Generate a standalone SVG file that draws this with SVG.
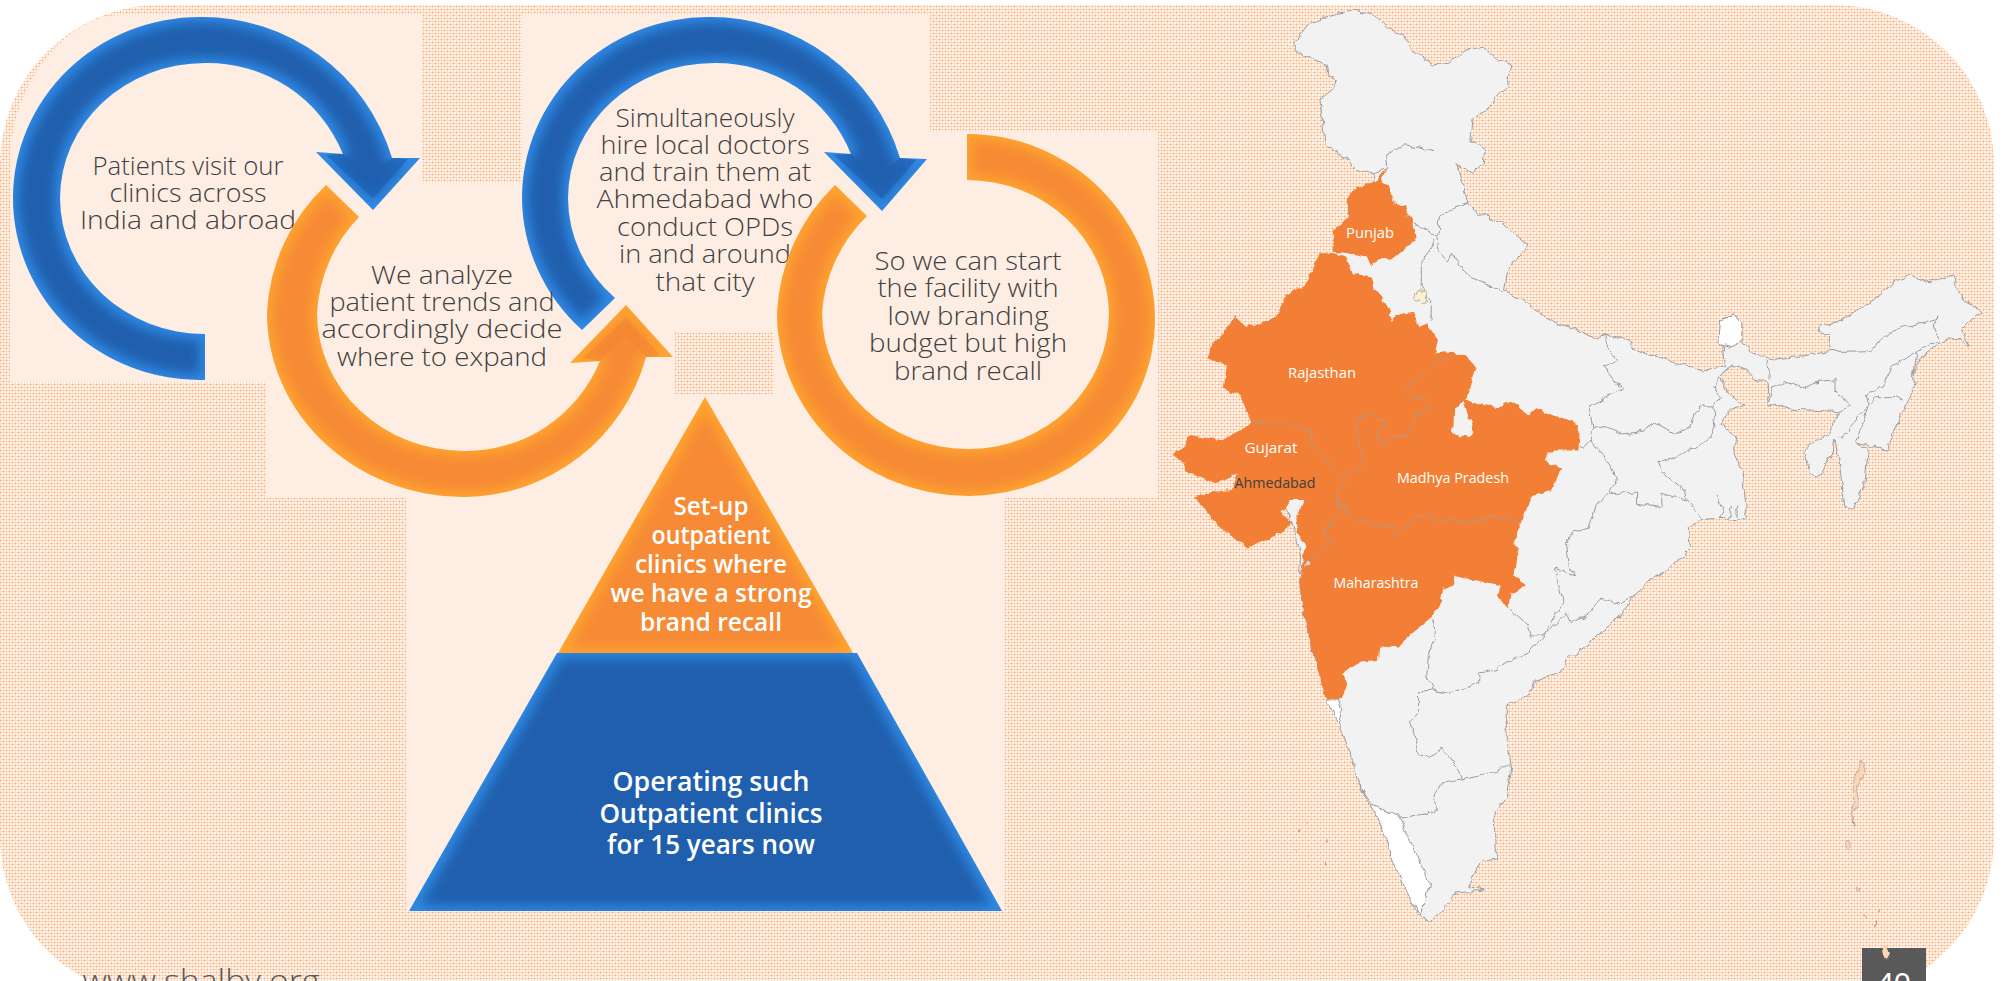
<svg xmlns="http://www.w3.org/2000/svg" width="2007" height="981" viewBox="0 0 2007 981">
<defs>
<pattern id="weave" width="6" height="6" patternUnits="userSpaceOnUse">
<rect width="6" height="6" fill="#fff3ea"/>
<path d="M0 0h6v1h-6zM0 3h6v1h-6z" fill="#fcd3b6" shape-rendering="crispEdges"/>
<path d="M0 0h1v6h-1zM3 0h1v6h-1z" fill="#fdd9c0" shape-rendering="crispEdges"/>
<path d="M0 0h1v1h-1zM3 3h1v1h-1z" fill="#f9a873" shape-rendering="crispEdges"/>
<path d="M1 2h1v1h-1zM4 5h1v1h-1z" fill="#ffffff" shape-rendering="crispEdges"/>
</pattern>
<filter id="bevel" x="-5%" y="-5%" width="110%" height="110%" color-interpolation-filters="sRGB">
<feMorphology in="SourceAlpha" operator="erode" radius="5"/>
<feGaussianBlur stdDeviation="6" result="b"/>
<feFlood flood-color="#205fad"/>
<feComposite in2="b" operator="in" result="c"/>
<feComposite in="c" in2="SourceAlpha" operator="in" result="d"/>
<feMerge><feMergeNode in="SourceGraphic"/><feMergeNode in="d"/></feMerge>
</filter>
<filter id="bevelO" x="-5%" y="-5%" width="110%" height="110%" color-interpolation-filters="sRGB">
<feMorphology in="SourceAlpha" operator="erode" radius="5"/>
<feGaussianBlur stdDeviation="6" result="b"/>
<feFlood flood-color="#f68a35"/>
<feComposite in2="b" operator="in" result="c"/>
<feComposite in="c" in2="SourceAlpha" operator="in" result="d"/>
<feMerge><feMergeNode in="SourceGraphic"/><feMergeNode in="d"/></feMerge>
</filter>
<filter id="rough" x="1150" y="0" width="857" height="981" filterUnits="userSpaceOnUse" color-interpolation-filters="sRGB">
<feTurbulence type="fractalNoise" baseFrequency=".11" numOctaves="2" seed="4" result="n"/>
<feDisplacementMap in="SourceGraphic" in2="n" scale="7" xChannelSelector="R" yChannelSelector="G"/>
</filter>
</defs>
<style>
.blue{fill:#2f8ae6;filter:url(#bevel)}
.org{fill:#ffa42f;filter:url(#bevelO)}
.hb{fill:#1f60b0;opacity:.65}
.ho{fill:#f48632;opacity:.6}
text{font-family:"Open Sans","Liberation Sans",sans-serif;text-anchor:middle}
.t{font-size:25.5px;fill:#404040;font-weight:300}
.w{font-size:25px;fill:#fff;font-weight:600}
.m{font-size:14px;fill:#fff}
.s{fill:#f2f2f2;stroke:#9c9c9c;stroke-width:1;vector-effect:non-scaling-stroke;stroke-linejoin:round}
.l{fill:none;stroke:#9c9c9c;stroke-width:1;vector-effect:non-scaling-stroke;stroke-linejoin:round}
.o{fill:#f27f35;stroke:none}
.i{fill:none;stroke:#b09a8c;stroke-width:1;vector-effect:non-scaling-stroke}
.wh{fill:#fff;stroke:#9c9c9c;stroke-width:1;vector-effect:non-scaling-stroke}
.pe{fill:#fbd6b6;stroke:#a89a90;stroke-width:.7;vector-effect:non-scaling-stroke}
</style>
<g id="background">
<rect x="0" y="5" width="1994" height="992" rx="160" ry="160" fill="url(#weave)"/>
<path fill-rule="evenodd" fill="#fdede3" d="M10 382V165C10 80 70 15 120 15H422V183H522V15H930V132H1158V498H1004V911H406V498H266V382ZM675 332H774V394H675Z"/>
</g>
<g id="step1">
<text class="t"><tspan x="188" y="175" textLength="191" lengthAdjust="spacingAndGlyphs">Patients visit our</tspan><tspan x="188" y="202" textLength="157" lengthAdjust="spacingAndGlyphs">clinics across</tspan><tspan x="188" y="229" textLength="216" lengthAdjust="spacingAndGlyphs">India and abroad</tspan></text>
<path class="blue" d="M205 380A187 182 0 0 1 13 198A187 181 0 0 1 200 17A198 198 0 0 1 392 158L420 158L373 210L316 152L343 154A146 146 0 0 0 205 63A145 135 0 0 0 60 198A145 136 0 0 0 205 334Z"/>
<path class="hb" d="M326 155L343 154L372 176L392 158L408 159L373 198Z"/>
</g>
<g id="step3">
<text class="t"><tspan x="705" y="127" textLength="179" lengthAdjust="spacingAndGlyphs">Simultaneously</tspan><tspan x="705" y="154" textLength="209" lengthAdjust="spacingAndGlyphs">hire local doctors</tspan><tspan x="705" y="181" textLength="212" lengthAdjust="spacingAndGlyphs">and train them at</tspan><tspan x="705" y="208" textLength="217" lengthAdjust="spacingAndGlyphs">Ahmedabad who</tspan><tspan x="705" y="236" textLength="176" lengthAdjust="spacingAndGlyphs">conduct OPDs</tspan><tspan x="705" y="263" textLength="172" lengthAdjust="spacingAndGlyphs">in and around</tspan><tspan x="705" y="291" textLength="99" lengthAdjust="spacingAndGlyphs">that city</tspan></text>
<path class="blue" d="M582 330A187 182 0 0 1 522 198A187 181 0 0 1 709 17A198 198 0 0 1 900 158L927 159L882 211L824 152L851 154A146 146 0 0 0 714 63A146 135 0 0 0 568 198A146 136 0 0 0 615 298Z"/>
<path class="hb" d="M834 155L851 154L881 176L900 158L916 160L882 199Z"/>
</g>
<g id="step2">
<text class="t"><tspan x="442" y="284" textLength="142" lengthAdjust="spacingAndGlyphs">We analyze</tspan><tspan x="442" y="311" textLength="225" lengthAdjust="spacingAndGlyphs">patient trends and</tspan><tspan x="442" y="338" textLength="241" lengthAdjust="spacingAndGlyphs">accordingly decide</tspan><tspan x="442" y="366" textLength="210" lengthAdjust="spacingAndGlyphs">where to expand</tspan></text>
<path class="org" d="M326 185A195 190 0 0 0 267 313A197 184 0 0 0 464 497A190 190 0 0 0 646 357L673 357L626 305L570 363L600 361A145 145 0 0 1 464 451A147 138 0 0 1 317 313A150 150 0 0 1 359 217Z"/>
<path class="ho" d="M583 358L600 361L626 335L646 357L660 355L626 318Z"/>
</g>
<g id="step4">
<text class="t"><tspan x="968" y="270" textLength="187" lengthAdjust="spacingAndGlyphs">So we can start</tspan><tspan x="968" y="297" textLength="181" lengthAdjust="spacingAndGlyphs">the facility with</tspan><tspan x="968" y="325" textLength="161" lengthAdjust="spacingAndGlyphs">low branding</tspan><tspan x="968" y="352" textLength="198" lengthAdjust="spacingAndGlyphs">budget but high</tspan><tspan x="968" y="380" textLength="148" lengthAdjust="spacingAndGlyphs">brand recall</tspan></text>
<path class="org" d="M967 134A188 186 0 0 1 1155 320A188 176 0 0 1 969 496A192 183 0 0 1 777 313A190 190 0 0 1 835 185L867 216A150 150 0 0 0 822 313A147 136 0 0 0 969 449A140 136 0 0 0 1109 313A142 135 0 0 0 967 180Z"/>
</g>
<g id="pyramid-top">
<path class="org" d="M705 397L853 653H558Z"/>
<text class="w"><tspan x="711" y="515" textLength="75" lengthAdjust="spacingAndGlyphs">Set-up</tspan><tspan x="711" y="544" textLength="119" lengthAdjust="spacingAndGlyphs">outpatient</tspan><tspan x="711" y="573" textLength="152" lengthAdjust="spacingAndGlyphs">clinics where</tspan><tspan x="711" y="602" textLength="201" lengthAdjust="spacingAndGlyphs">we have a strong</tspan><tspan x="711" y="631" textLength="142" lengthAdjust="spacingAndGlyphs">brand recall</tspan></text>
</g>
<g id="pyramid-base">
<path class="blue" d="M557 653H857L1002 911H409Z"/>
<text class="w" style="font-size:27px"><tspan x="711" y="791" textLength="197" lengthAdjust="spacingAndGlyphs">Operating such</tspan><tspan x="711" y="823" textLength="223" lengthAdjust="spacingAndGlyphs">Outpatient clinics</tspan><tspan x="711" y="854" textLength="208" lengthAdjust="spacingAndGlyphs">for 15 years now</tspan></text>
</g>
<g id="footer">
<text x="201" y="992" style="font-size:31px;fill:#595959;font-weight:300" textLength="237" lengthAdjust="spacingAndGlyphs">www.shalby.org</text>
<rect x="1862" y="948" width="64" height="40" fill="#595959"/>
<text x="1894" y="993" style="font-size:30px;fill:#fff;font-family:'Liberation Sans',sans-serif">40</text>
</g>
<g id="india-map" filter="url(#rough)">
<g transform="translate(1150 0) scale(.548 .3333)">
<path id="india" class="s" d="M370 30L405 40L430 80L465 110L480 150L515 195L545 190L575 150L610 145L630 175L660 195L650 260L620 320L590 355L585 420L612 450L610 490L590 520L565 500L560 490L580 610L600 640L650 680L690 735L665 780L650 820L645 870L680 900L710 940L745 970L780 990L810 1015L840 1005L875 1020L885 1050L930 1075L960 1090L1010 1110L1050 1100L1041 960L1066 945L1080 965L1080 1025L1100 1060L1140 1078L1180 1070L1240 1055L1242 1010L1219 990L1222 980L1271 950L1320 900L1355 850L1385 825L1420 845L1465 825L1480 895L1520 935L1508 945L1480 990L1497 1040L1480 1018L1445 1022L1403 1080L1393 1130L1400 1150L1372 1240L1344 1350L1288 1330L1309 1350L1302 1460L1285 1525L1268 1520L1257 1380L1250 1320L1243 1360L1219 1435L1205 1420L1195 1360L1201 1335L1243 1300L1250 1260L1260 1235L1173 1228L1128 1215L1126 1140L1118 1140L1107 1145L1087 1110L1062 1095L1041 1130L1055 1180L1084 1218L1059 1225L1040 1270L1069 1310L1066 1360L1080 1410L1090 1555L1080 1565L1041 1555L1007 1558L982 1585L986 1640L972 1670L944 1710L905 1750L885 1785L855 1850L810 1920L760 1980L750 2020L705 2040L690 2090L650 2120L650 2220L655 2270L658 2310L650 2390L630 2440L632 2575L605 2580L580 2660L610 2670L555 2680L540 2720L510 2765L490 2745L470 2680L445 2590L420 2470L380 2350L370 2280L345 2170L325 2100L300 1970L285 1870L272 1740L275 1670L265 1590L240 1500L330 755L362 650L362 590L410 545L405 520L372 505L365 480L320 440L310 300L335 265L340 240L325 225L320 190L265 155L265 125L290 70L340 40Z"/>
<path class="wh" d="M1041 960L1066 945L1080 965L1080 1025L1062 1040L1038 1030Z"/>
<path class="wh" d="M380 2350L405 2415L455 2450L465 2490L480 2540L505 2630L510 2650L495 2745L470 2680L445 2590L420 2470Z"/>
<path class="wh" d="M322 2100L345 2100L352 2130L345 2170Z"/>
<path class="l" d="M405 520L432 505L430 465L465 435L490 440L520 455M580 610L550 628L530 645L525 710L480 670M520 720L495 790L495 860L515 915L515 965M525 710L530 760L545 790L550 760L580 825L645 875"/>
<path class="l" d="M829 1005L836 1050L853 1080L831 1098L840 1135L864 1165L847 1180L801 1220L808 1285L805 1320L791 1345L773 1330M808 1285L833 1280L860 1305L888 1300L923 1270L958 1300L986 1280L993 1240L1010 1215L1027 1225L1031 1280L1024 1310L1000 1340L951 1375L927 1385L934 1415L972 1470L979 1500L1007 1555M1027 1225L1041 1190L1027 1160L1041 1130L1055 1102M805 1320L833 1380L853 1440L836 1480L888 1480L888 1510L934 1520L934 1480L979 1500M836 1480L812 1520L801 1585L770 1600L760 1630L765 1700L775 1725L740 1705L755 1800L720 1905"/>
<path class="l" d="M655 1825L690 1875L695 1905L720 1905L760 1840L770 1865L800 1845L825 1790L850 1815L885 1785M720 1905L690 1960L660 1980L635 2005L600 2020L600 2050L575 2065L545 2080L515 2070L490 2075L490 2140L475 2160L485 2230L490 2265L510 2270L535 2250L565 2310L570 2340L530 2350L515 2400L525 2425L510 2440L455 2455M515 1860L520 1920L508 1970L505 2030L515 2070M570 2340L610 2325L655 2300"/>
<path class="l" d="M1240 1055L1313 1052L1334 1025L1355 990L1438 955L1431 980L1440 1020L1400 1055L1393 1130M1400 1055L1355 1100L1337 1160L1307 1185L1313 1215L1288 1330M1313 1215L1326 1190L1361 1190L1372 1200M1313 1215L1278 1280L1274 1300L1257 1310M1128 1215L1135 1160L1160 1145L1198 1165L1215 1145L1250 1140L1250 1170L1278 1215L1260 1235M1128 1080L1130 1135M1034 1485L1045 1520L1041 1555M1063 1515L1058 1555M1070 1510L1072 1555"/>
<path id="west-states" class="o" d="M310 760L290 830L280 860L250 885L230 950L215 965L175 980L155 950L140 980L115 1030L105 1075L140 1095L135 1165L165 1185L185 1270L160 1300L130 1320L70 1305L65 1340L40 1365L60 1385L70 1420L120 1450L160 1420L150 1470L120 1475L80 1490L130 1590L178 1643L245 1595L260 1570L240 1535L255 1500L280 1500L265 1560L270 1600L285 1640L272 1740L285 1870L300 1970L320 2095L350 2098L360 2050L352 2020L385 1985L418 1980L420 1940L455 1945L465 1920L500 1870L515 1850L530 1810L535 1770L552 1760L558 1725L590 1740L640 1755L635 1790L655 1825L660 1785L687 1758L665 1725L672 1660L665 1620L680 1560L695 1490L730 1470L752 1410L725 1385L725 1355L780 1355L783 1270L735 1245L705 1225L690 1240L660 1205L635 1225L600 1215L570 1195L590 1295L583 1312L553 1300L555 1230L580 1190L595 1105L580 1070L550 1055L520 1060L525 1020L505 970L490 980L480 935L450 945L440 965L440 930L410 870L405 830L370 820L360 770L335 760Z"/>
<path id="punjab" class="o" d="M430 510L420 520L410 545L375 565L362 590L362 650L340 680L330 755L365 760L395 770L402 795L420 775L445 775L470 740L485 710L478 670L465 620L445 610L435 560L420 540Z"/>
<path class="i" d="M185 1272L240 1270L290 1290L300 1340L320 1380L345 1420L360 1440L340 1480L345 1530L325 1565L340 1570L315 1590L330 1630L310 1655L285 1685M550 1060L490 1125L465 1170L480 1195L510 1200L510 1225L485 1240L470 1310L440 1310L425 1345L415 1300L430 1270L400 1235L375 1270L385 1360L385 1400L355 1420M345 1520L360 1520L360 1550L400 1575L445 1580L450 1610L490 1550L515 1540L520 1570L560 1555L580 1570L620 1550L670 1565L680 1570"/>
<path d="M490 870L503 872L505 905L495 908L482 895Z" fill="#fdf0d0" stroke="#b5b5a0" vector-effect="non-scaling-stroke"/>
<path class="pe" d="M285 1680L295 1685L293 1700L283 1698Z"/>
<path class="pe" d="M1300 2280L1305 2320L1290 2370L1295 2400L1282 2440L1285 2480L1280 2440L1284 2400L1283 2350Z"/>
<ellipse class="pe" cx="1275" cy="2535" rx="5" ry="16"/>
<path class="pe" d="M1288 2662h7v14h-7Z"/>
<path class="l" d="M1325 2760L1322 2782M1306 2740L1310 2755M1331 2725V2735M287 2465V2470M275 2490V2497M245 2525V2530M320 2525V2530M268 2548V2551M320 2590V2600M290 2745V2750"/>
<path d="M1335 2840L1345 2838L1350 2860L1345 2880L1338 2865Z" fill="#fbd6b6"/>
</g>
</g>
<g id="map-labels">
<text class="m" x="1370" y="238" textLength="48" lengthAdjust="spacingAndGlyphs">Punjab</text>
<text class="m" x="1322" y="378" textLength="68" lengthAdjust="spacingAndGlyphs">Rajasthan</text>
<text class="m" x="1271" y="453" textLength="53" lengthAdjust="spacingAndGlyphs">Gujarat</text>
<text class="m" x="1275" y="488" textLength="81" lengthAdjust="spacingAndGlyphs" style="fill:#404040">Ahmedabad</text>
<text class="m" x="1453" y="483" textLength="112" lengthAdjust="spacingAndGlyphs">Madhya Pradesh</text>
<text class="m" x="1376" y="588" textLength="85" lengthAdjust="spacingAndGlyphs">Maharashtra</text>
</g>
</svg>
